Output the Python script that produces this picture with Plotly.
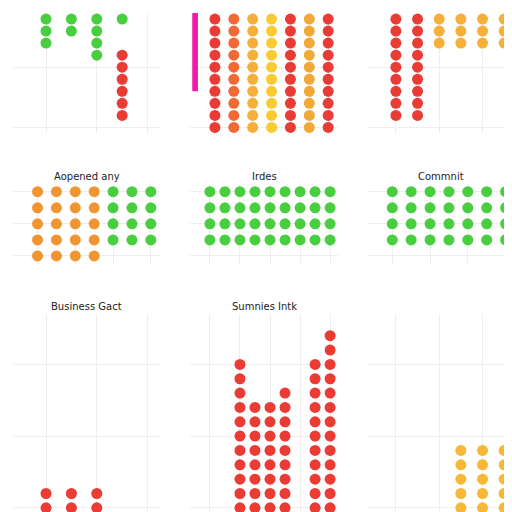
import plotly.graph_objects as go
from plotly.subplots import make_subplots

# column heights (dots per column) for each panel
top_left_green = [3, 2, 4, 1]
top_left_red = [0, 0, 0, 6]
top_mid_counts = [10, 10, 10, 10, 10, 10, 10]
top_mid_colors = ["#e8261e", "#ef5a20", "#f5a623", "#f7c61a", "#e8261e", "#f0a020", "#e8261e"]
top_right_red = [9, 9, 0, 0, 0, 0]
top_right_top = [0, 0, 3, 3, 3, 3]

mid_left_orange = [5, 5, 5, 5, 0, 0, 0]
mid_left_green = [0, 0, 0, 0, 4, 4, 4]
mid_mid_green = [4, 4, 4, 4, 4, 4, 4, 4, 4]
mid_right_green = [4, 4, 4, 4, 4, 4, 4]

bot_left_red = [2, 2, 2, 0, 0]
bot_mid_red = [0, 0, 11, 8, 8, 9, 0, 11, 13]
bot_right_orange = [0, 0, 0, 5, 5, 5]

titles = ["", "", "", "Aopened any", "Irdes", "Commnit", "Business Gact", "Sumnies Intk", ""]

fig = make_subplots(rows=3, cols=3, subplot_titles=titles,
                    horizontal_spacing=0.06, vertical_spacing=0.1,
                    row_heights=[0.3, 0.2, 0.5])


def add_cols(counts, color, row, col, top=True, start=0, rows_total=10):
    xs, ys = [], []
    for i, c in enumerate(counts):
        for j in range(c):
            xs.append(i)
            ys.append(rows_total - 1 - (start + j) if top else start + j)
    fig.add_trace(go.Scatter(x=xs, y=ys, mode="markers",
                             marker=dict(size=11, color=color, opacity=0.9),
                             showlegend=False), row=row, col=col)


add_cols(top_left_green, "#35c92b", 1, 1)
add_cols(top_left_red, "#e8261e", 1, 1, start=3)
for i, (c, clr) in enumerate(zip(top_mid_counts, top_mid_colors)):
    cnt = [0] * len(top_mid_counts)
    cnt[i] = c
    add_cols(cnt, clr, 1, 2)
add_cols(top_right_red, "#e8261e", 1, 3)
add_cols(top_right_top, "#f5a623", 1, 3)

add_cols(mid_left_orange, "#f08a1c", 2, 1, rows_total=5)
add_cols(mid_left_green, "#35c92b", 2, 1, rows_total=5)
add_cols(mid_mid_green, "#35c92b", 2, 2, rows_total=5)
add_cols(mid_right_green, "#35c92b", 2, 3, rows_total=5)

add_cols(bot_left_red, "#e8261e", 3, 1, top=False)
add_cols(bot_mid_red, "#e8261e", 3, 2, top=False)
add_cols(bot_right_orange, "#f5b020", 3, 3, top=False)

fig.add_shape(type="rect", xref="x2", yref="y2", x0=-1.2, x1=-0.9, y0=3, y1=10,
              fillcolor="#f01aa8", line_width=0)

ranges_x = [[-0.5, 4.5], [-0.5, 6.5], [-0.5, 5.5], [-0.5, 6.5], [-0.5, 8.5], [-0.5, 6.5],
            [-0.5, 4.5], [-0.5, 8.5], [-0.5, 5.5]]
for k in range(9):
    r, c = k // 3 + 1, k % 3 + 1
    yr = [-0.5, 9.5] if r == 1 else ([-0.5, 4.5] if r == 2 else [-0.5, 13.5])
    fig.update_xaxes(range=[ranges_x[k][0] - 0.8, ranges_x[k][1]], showticklabels=False,
                     gridcolor="#eeeeee", zeroline=False, row=r, col=c)
    fig.update_yaxes(range=yr, showticklabels=False, gridcolor="#eeeeee",
                     zeroline=False, row=r, col=c)

fig.update_annotations(font=dict(family="DejaVu Sans", size=10, color="#222"))
fig.update_layout(width=512, height=512, margin=dict(l=5, r=5, t=5, b=5),
                  plot_bgcolor="white", paper_bgcolor="white")
fig.write_html("out.html")
